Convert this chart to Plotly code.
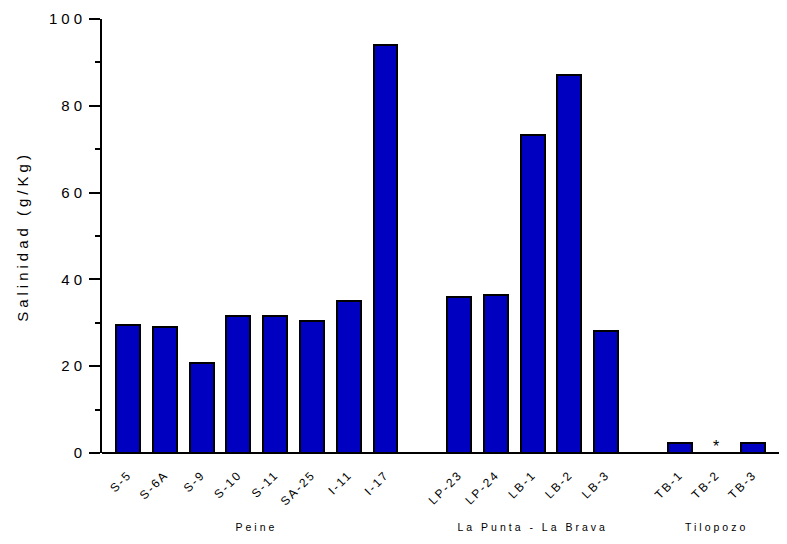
import plotly.graph_objects as go

# Data
peine = ["S-5", "S-6A", "S-9", "S-10", "S-11", "SA-25", "I-11", "I-17"]
peine_vals = [29.6, 29.0, 20.8, 31.5, 31.6, 30.5, 35.0, 94.0]
lapunta = ["LP-23", "LP-24", "LB-1", "LB-2", "LB-3"]
lapunta_vals = [36.0, 36.4, 73.3, 87.2, 28.1]
tilo = ["TB-1", "TB-2", "TB-3"]
tilo_vals = [2.2, None, 2.2]
groups = ["Peine", "La Punta - La Brava", "Tilopozo"]
y_ticks = [0, 20, 40, 60, 80, 100]
y_title = "Salinidad (g/Kg)"
missing_mark = "*"

# Build positions with one empty slot between groups
xs, labels, vals, group_centers = [], [], [], []
pos = 0
for names, values in [(peine, peine_vals), (lapunta, lapunta_vals), (tilo, tilo_vals)]:
    start = pos
    for n, v in zip(names, values):
        xs.append(pos)
        labels.append(n)
        vals.append(v)
        pos += 1
    group_centers.append((start + pos - 1) / 2)
    pos += 1

font_family = "Arial, Liberation Sans, sans-serif"

fig = go.Figure()
fig.add_trace(go.Bar(
    x=xs, y=[v if v is not None else 0 for v in vals],
    width=0.65,
    marker=dict(color="#0000C0", line=dict(color="black", width=2)),
    showlegend=False,
))

annotations = []
# y-axis title (index 0)
annotations.append(dict(x=-0.117, y=0.5, xref="paper", yref="paper", text=y_title,
                        textangle=-90, showarrow=False, xanchor="center", yanchor="middle",
                        font=dict(size=15, color="black", family=font_family)))
for g, c in zip(groups, group_centers):
    annotations.append(dict(x=c, y=-0.17, xref="x", yref="paper", text=g, showarrow=False,
                            xanchor="center", yanchor="middle",
                            font=dict(size=10.5, color="black", family=font_family)))
for x, v in zip(xs, vals):
    if v is None:
        annotations.append(dict(x=x, y=0, xref="x", yref="y", text=missing_mark, showarrow=False,
                                yanchor="bottom", yshift=-4,
                                font=dict(size=16, color="black", family=font_family)))

fig.update_layout(
    width=787, height=544,
    margin=dict(l=94, r=8, t=11, b=99, autoexpand=False),
    plot_bgcolor="white", paper_bgcolor="white",
    font=dict(family=font_family, color="black"),
    annotations=annotations,
    bargap=0,
    xaxis=dict(
        range=[-0.71, 17.92],
        tickvals=xs, ticktext=labels, tickangle=-45,
        ticks="outside", ticklen=9, tickcolor="rgba(0,0,0,0)",
        showgrid=False, zeroline=False,
        showline=False, tickfont=dict(size=12),
    ),
    yaxis=dict(
        range=[0, 100], tickvals=y_ticks,
        ticks="outside", ticklen=11, tickwidth=2, tickcolor="black",
        showline=True, linecolor="black", linewidth=2,
        showgrid=False, zeroline=True, zerolinecolor="black", zerolinewidth=2,
        tickfont=dict(size=15),
        minor=dict(dtick=10, ticks="outside", ticklen=5, tickwidth=2, tickcolor="black"),
    ),
)

post = """
var gd = document.getElementById('{plot_id}');
function sp(sel, v){ gd.querySelectorAll(sel).forEach(function(t){ t.style.letterSpacing = v; }); }
sp('.ytick text', '4px');
sp('.xtick text', '2px');
sp('g.annotation[data-index="0"] text', '4px');
sp('g.annotation[data-index="1"] text', '3px');
sp('g.annotation[data-index="2"] text', '3px');
sp('g.annotation[data-index="3"] text', '3px');
"""

fig.write_html("out.html", post_script=post)
